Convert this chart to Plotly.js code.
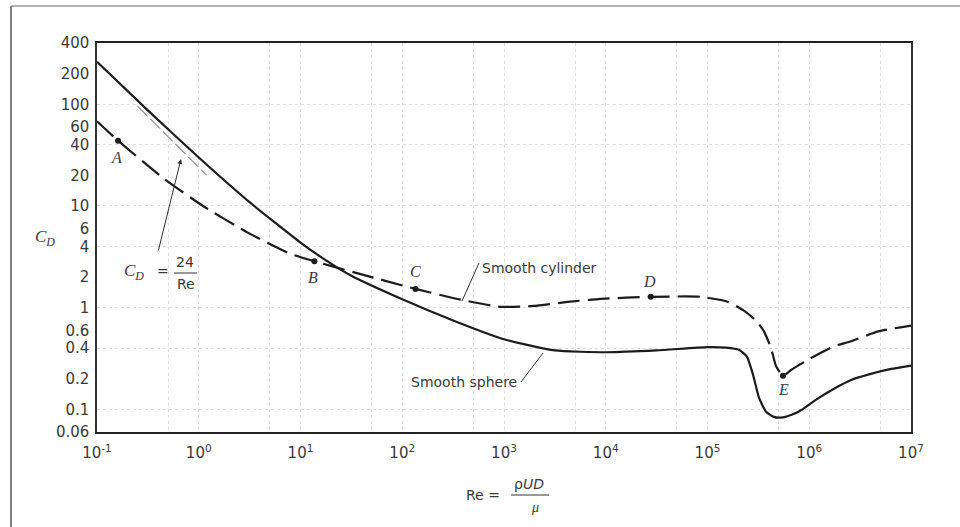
<!DOCTYPE html>
<html>
<head>
<meta charset="utf-8">
<script src="https://cdn.plot.ly/plotly-3.0.1.min.js"></script>
<style>
  html, body { margin: 0; padding: 0; background: #ffffff; }
  #chart { width: 960px; height: 527px; }
</style>
</head>
<body>
<div id="chart"></div>
<script>
// Drag coefficient of a smooth sphere and a smooth cylinder vs Reynolds number
const reSphere = [0.1, 0.316, 1, 3.16, 10, 19.6, 31.6, 100, 316, 1000, 3160, 1e4, 3.16e4, 1e5, 1.52e5,
                  2.04e5, 2.44e5, 2.8e5, 3.21e5, 3.76e5, 4.41e5, 5.27e5, 6.62e5, 8.3e5, 1.17e6, 1.75e6,
                  2.58e6, 3.79e6, 6.38e6, 1e7];
const cdSphere = [262, 87, 30, 10.9, 4.37, 2.74, 2.06, 1.21, 0.75, 0.49, 0.38, 0.365, 0.38, 0.41, 0.405,
                  0.385, 0.33, 0.22, 0.13, 0.095, 0.085, 0.083, 0.088, 0.098, 0.125, 0.16,
                  0.195, 0.22, 0.25, 0.27];

const reCylinder = [0.1, 0.161, 0.45, 1.1, 3.0, 7.9, 13.7, 33, 135, 374, 927, 1950, 4230, 8900, 27700,
                    8.6e4, 1.6e5, 2.28e5, 2.99e5, 3.59e5, 4.21e5, 4.71e5, 5.52e5, 6.62e5, 1.04e6,
                    1.75e6, 2.58e6, 4.75e6, 1e7];
const cdCylinder = [68, 43.8, 18.7, 10, 5.5, 3.4, 2.86, 2.24, 1.53, 1.2, 1.02, 1.04, 1.14, 1.22, 1.28,
                    1.28, 1.14, 0.935, 0.748, 0.585, 0.40, 0.267, 0.214, 0.244, 0.32,
                    0.418, 0.468, 0.585, 0.668];

// Stokes-law segment C_D = 24/Re
const reStokes = [0.25, 1.2];
const cdStokes = [96, 20];

// Labelled points on the cylinder curve
const pointNames = ['A', 'B', 'C', 'D', 'E'];
const pointRe = [0.161, 13.7, 135, 27700, 5.52e5];
const pointCd = [43.8, 2.86, 1.53, 1.28, 0.214];

const yTicks = [400, 200, 100, 60, 40, 20, 10, 6, 4, 2, 1, 0.6, 0.4, 0.2, 0.1, 0.06];
const yTickText = ['400', '200', '100', '60', '40', '20', '10', '6', '4', '2', '1', '0.6', '0.4', '0.2', '0.1', '0.06'];
const yGrid = [100, 40, 10, 4, 1, 0.4, 0.1];
const xTicks = [1e-1, 1e0, 1e1, 1e2, 1e3, 1e4, 1e5, 1e6, 1e7];
const xTickText = ['10<sup>-1</sup>', '10<sup>0</sup>', '10<sup>1</sup>', '10<sup>2</sup>', '10<sup>3</sup>',
                   '10<sup>4</sup>', '10<sup>5</sup>', '10<sup>6</sup>', '10<sup>7</sup>'];
const xGrid = [5e-1, 1, 5, 10, 50, 100, 500, 1e3, 5e3, 1e4, 5e4, 1e5, 5e5, 1e6, 5e6];

// plot box in pixels: left 97, right 911, top 43, bottom 432
const L = 97, R = 911, T = 43, B = 432;
const px = x => (x - L) / (R - L);
const py = y => (B - y) / (B - T);

const ink = '#1c1c1c';
const textCol = '#3a3a3a';
const sans = 'DejaVu Sans, Verdana, sans-serif';
const serif = 'Liberation Serif, Times New Roman, serif';

const traces = [
  {
    x: reSphere, y: cdSphere, mode: 'lines', type: 'scatter',
    line: { color: ink, width: 2.2, shape: 'spline', smoothing: 0.5 },
    hoverinfo: 'skip'
  },
  {
    x: reCylinder, y: cdCylinder, mode: 'lines', type: 'scatter',
    line: { color: ink, width: 2.2, dash: '22px,8px', shape: 'spline', smoothing: 0.5 },
    hoverinfo: 'skip'
  },
  {
    x: reStokes, y: cdStokes, mode: 'lines', type: 'scatter',
    line: { color: '#555', width: 1, dash: '14px,4px' },
    hoverinfo: 'skip'
  },
  {
    x: pointRe, y: pointCd, mode: 'markers', type: 'scatter',
    marker: { color: ink, size: 6 },
    hoverinfo: 'skip'
  }
];

const labelShift = { A: [-2, -17], B: [-1, -16], C: [0, 17], D: [-1, 15], E: [1, -14] };
const annotations = pointNames.map((n, i) => ({
  x: Math.log10(pointRe[i]), y: Math.log10(pointCd[i]), xref: 'x', yref: 'y',
  xanchor: 'center', yanchor: 'middle',
  text: n, showarrow: false,
  xshift: labelShift[n][0], yshift: labelShift[n][1],
  font: { family: serif, size: 16, color: textCol, style: 'italic' }
}));

const note = (x, y, text, font, anchor) => ({
  xref: 'paper', yref: 'paper', x: px(x), y: py(y), xanchor: anchor || 'center', yanchor: 'middle',
  text: text, showarrow: false, font: font
});
const sansFont = { family: sans, size: 14, color: textCol };
const italicFont = { family: serif, size: 17, color: textCol, style: 'italic' };

annotations.push(
  note(33, 238, 'C<sub>D</sub>', italicFont, 'left'),
  note(122, 272, 'C<sub>D</sub>', italicFont, 'left'),
  note(163, 271, '=', sansFont),
  note(185, 262, '24', sansFont),
  note(186, 284, 'Re', sansFont),
  note(480, 268, 'Smooth cylinder', sansFont, 'left'),
  note(519, 382, 'Smooth sphere', sansFont, 'right'),
  note(483, 495, 'Re =', sansFont),
  note(529, 484, 'ρ<i>UD</i>', sansFont),
  note(535, 507, '<i>μ</i>', { family: serif, size: 14, color: textCol }),
  // arrow pointing at the 24/Re segment
  { xref: 'paper', yref: 'paper', x: px(181), y: py(159), ax: px(158), ay: py(252), axref: 'paper', ayref: 'paper',
    text: '', showarrow: true, arrowhead: 2, arrowsize: 1, arrowwidth: 1, arrowcolor: '#333' }
);

const lineShape = (x0, y0, x1, y1, w, c) => ({
  type: 'line', xref: 'paper', yref: 'paper', x0: px(x0), y0: py(y0), x1: px(x1), y1: py(y1),
  line: { color: c || '#333', width: w || 1 }
});

const shapes = [
  lineShape(174, 273, 197, 273, 1),       // 24/Re fraction bar
  lineShape(511, 495, 549, 495, 1),       // ρUD/μ fraction bar
  lineShape(479, 263, 462, 301, 1),       // cylinder leader
  lineShape(521, 382, 543, 353, 1),       // sphere leader
  lineShape(11, 6, 11, 527, 1.5, '#555'), // outer frame, left
  lineShape(11, 6, 960, 6, 1.5, '#999')   // outer frame, top
];

const layout = {
  width: 960, height: 527,
  margin: { l: L, r: 960 - R, t: T, b: 527 - B },
  paper_bgcolor: '#ffffff', plot_bgcolor: '#ffffff',
  showlegend: false,
  font: { family: sans, color: textCol },
  xaxis: {
    type: 'log', range: [-1, 7],
    tickvals: xTicks, ticktext: xTickText,
    tickfont: { family: sans, size: 15, color: textCol },
    ticklabelstandoff: 6,
    showline: true, linecolor: '#222', linewidth: 2, mirror: true,
    ticks: '', showgrid: false,
    minor: { tickvals: xGrid, showgrid: true, gridcolor: '#dedede', griddash: 'dot', gridwidth: 1, ticks: '' },
    zeroline: false
  },
  yaxis: {
    type: 'log', range: [Math.log10(0.06), Math.log10(400)],
    tickvals: yTicks, ticktext: yTickText,
    tickfont: { family: sans, size: 15, color: textCol },
    ticklabelstandoff: 3,
    showline: true, linecolor: '#333', linewidth: 1.6, mirror: true,
    ticks: '', showgrid: false,
    minor: { tickvals: yGrid, showgrid: true, gridcolor: '#dedede', griddash: 'dot', gridwidth: 1, ticks: '' },
    zeroline: false
  },
  annotations: annotations,
  shapes: shapes
};

Plotly.newPlot('chart', traces, layout, { displayModeBar: false, staticPlot: true });
</script>
</body>
</html>
